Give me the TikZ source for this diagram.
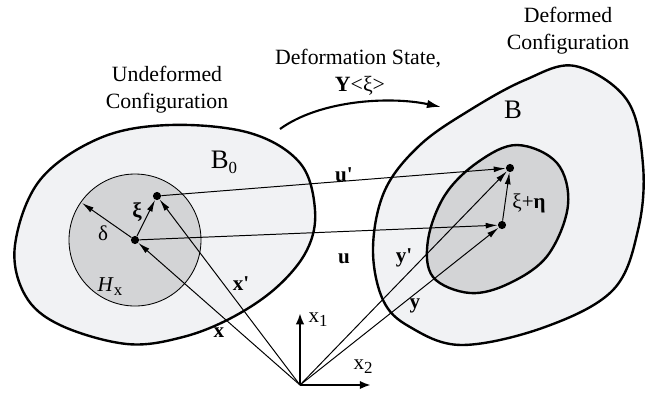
\documentclass[tikz,border=0pt]{standalone}
\usepackage{fontspec}
\setmainfont{Liberation Serif}
\usetikzlibrary{arrows.meta}

\definecolor{bodyfill}{RGB}{241,242,244}
\definecolor{hoodfill}{RGB}{211,212,214}
\newcommand{\lowidx}[1]{\raisebox{-0.4ex}{\fontsize{12}{12}\selectfont #1}}

\begin{document}
\begin{tikzpicture}[x=0.025cm, y=-0.025cm,
    vec/.style={line width=0.7pt, -{Latex[length=8.5pt,width=4.2pt]}},
    axis/.style={line width=1.9pt, -{Latex[length=8pt,width=6pt]}},
    dot/.style={circle, fill=black, inner sep=0pt, minimum size=5.8pt},
    lbl/.style={font=\fontsize{15}{18}\selectfont},
    title/.style={align=center, font=\fontsize{15.5}{19}\selectfont}]
    \useasboundingbox (0,0) rectangle (649,397);
    % Corpo indeformado B0
    \draw[line width=1.7pt, fill=bodyfill] plot[smooth cycle, tension=0.6] coordinates
      {(15,245) (40,180) (100,138) (170,125) (250,133) (300,163) (315,210)
       (307,250) (277,287) (233,317) (183,337) (127,344) (60,325) (25,295)};
    \draw[line width=0.6pt, fill=hoodfill] (135,240) circle (66);
    % Corpo deformado B
    \draw[line width=1.7pt, fill=bodyfill] plot[smooth cycle, tension=0.6] coordinates
      {(373,248) (385,190) (420,145) (470,110) (525,80) (575,66) (627,100)
       (643,165) (638,230) (613,290) (545,327) (462,345) (410,327) (383,300)};
    \draw[line width=1.7pt, fill=hoodfill] plot[smooth cycle, tension=0.6] coordinates
      {(517,145) (557,163) (568,205) (548,255) (510,283) (470,293) (433,277)
       (428,240) (445,195) (478,162)};
    % Pontos materiais
    \coordinate (O) at (300,385);
    \node[dot] (P) at (135,240) {};
    \node[dot] (Pp) at (157,196) {};
    \node[dot] (Q) at (502,225) {};
    \node[dot] (Qp) at (510,168) {};
    \coordinate (D) at (82,203);
    % Vetores
    \draw[vec] (O) -- (P);
    \draw[vec] (O) -- (Pp);
    \draw[vec] (O) -- (Q);
    \draw[vec] (O) -- (Qp);
    \draw[vec] (P) -- (Pp);
    \draw[vec] (P) -- (D);
    \draw[vec] (P) -- (Q);
    \draw[vec] (Pp) -- (Qp);
    \draw[vec] (Q) -- (Qp);
    % Eixos
    \coordinate (E1) at (300,313);
    \coordinate (E2) at (371,385);
    \draw[axis] (O) -- (E1);
    \draw[axis] (O) -- (E2);
    % Seta do estado de deformacao
    \coordinate (S0) at (280,129);
    \coordinate (S1) at (441,107);
    \draw[line width=1.5pt, -{Latex[length=10pt,width=6pt]}] (S0) .. controls (320,100) and (390,96) .. (S1);
    % Labels
    \node[title] (undef) at (167,90) {Undeformed\\Configuration};
    \node[title] (def) at (568,31) {Deformed\\Configuration};
    \node[title] (state) at (358,58) {Deformation State,};
    \node[title] (ystate) at (360,86) {\textbf{Y}<ξ>};
    \node[font=\fontsize{19}{19}\selectfont] (lb0) at (224,162) {B\lowidx{0}};
    \node[font=\fontsize{19}{19}\selectfont] (lb) at (513,110) {B};
    \node[lbl] (lhx) at (110,287) {\textit{H}\lowidx{x}};
    \node[lbl] (ldelta) at (103,233) {δ};
    \node[lbl] (lxi) at (137,212) {\textbf{ξ}};
    \node[lbl] (lxieta) at (529,203) {ξ+\textbf{η}};
    \node[lbl] (lx) at (219,333) {\textbf{x}};
    \node[lbl] (lxp) at (241,284) {\textbf{x\textquotesingle}};
    \node[lbl] (lu) at (344,259) {\textbf{u}};
    \node[lbl] (lup) at (344,175) {\textbf{u\textquotesingle}};
    \node[lbl] (ly) at (415,306) {\textbf{y}};
    \node[lbl] (lyp) at (404,258) {\textbf{y\textquotesingle}};
    \node[lbl] (lx1) at (318,320) {x\lowidx{1}};
    \node[lbl] (lx2) at (363,367) {x\lowidx{2}};
  \end{tikzpicture}
\end{document}
